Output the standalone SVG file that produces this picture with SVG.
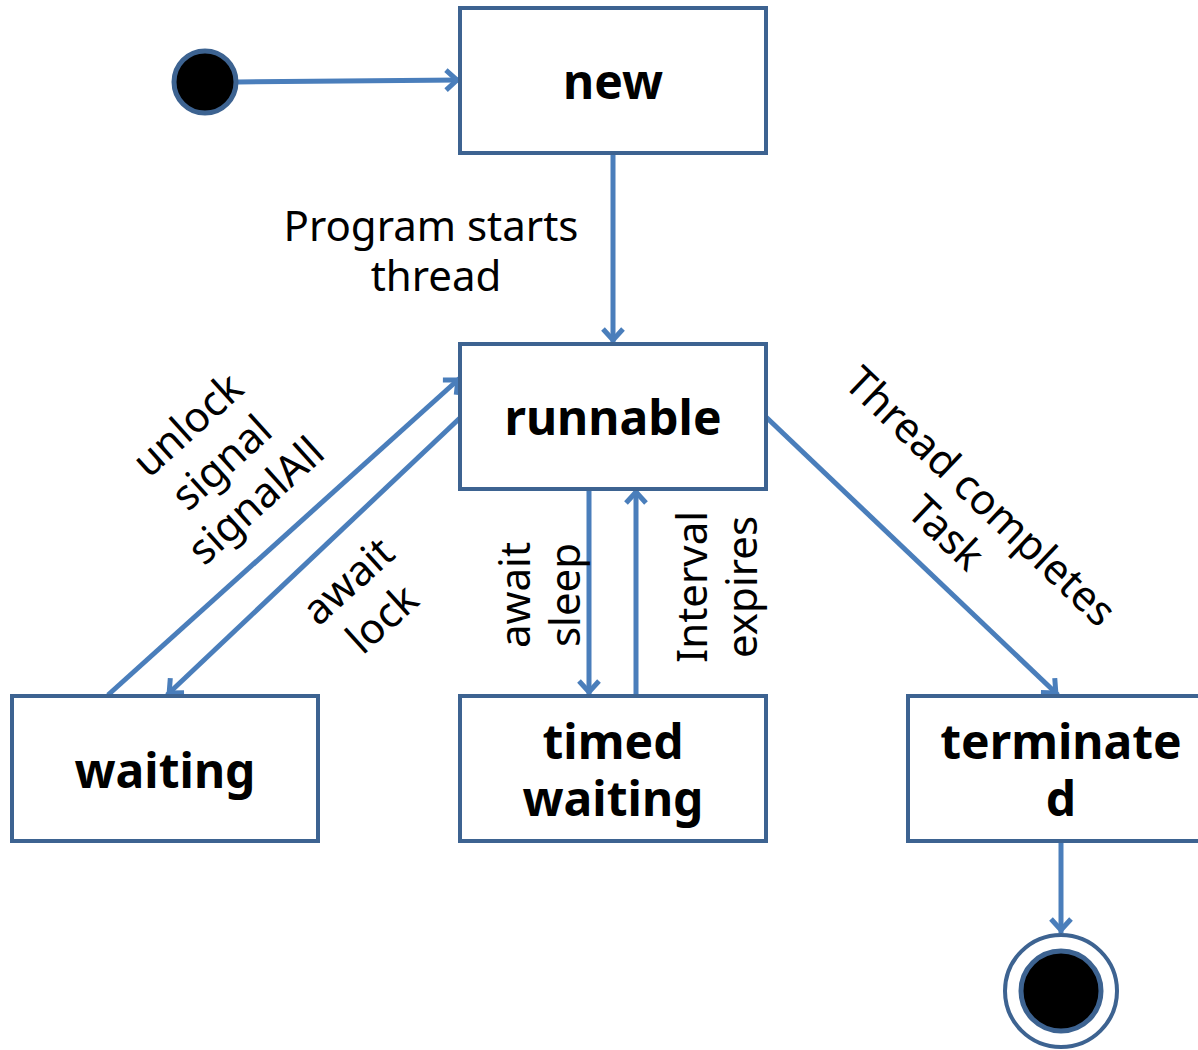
<svg xmlns="http://www.w3.org/2000/svg" width="1198" height="1050" viewBox="0 0 1198 1050">
  <style>
    .box { fill: #ffffff; stroke: #3d6391; stroke-width: 4; }
    .lbl { font-family: "Noto Sans", "Open Sans", sans-serif; font-size: 48px; font-weight: bold; fill: #000; text-anchor: middle; }
    .tr { font-family: "Noto Sans", "Open Sans", sans-serif; font-size: 42px; fill: #000; text-anchor: middle; }
    .edge { fill: none; stroke: #4a7ebb; stroke-width: 5; marker-end: url(#head); }
  </style>
  <defs>
    <marker id="head" markerUnits="userSpaceOnUse" viewBox="-20 -15 30 30" markerWidth="30" markerHeight="30" refX="0" refY="0" orient="auto">
      <path d="M-14,-10 L-3,0 L-14,10" fill="none" stroke="#4a7ebb" stroke-width="5"/>
    </marker>
  </defs>

  <rect width="1198" height="1050" fill="#ffffff"/>

  <!-- transitions -->
  <g id="connectors">
    <line class="edge" x1="238" y1="82" x2="460" y2="80"/>
    <line class="edge" x1="613" y1="153" x2="613" y2="343"/>
    <line class="edge" x1="108" y1="695" x2="460" y2="378"/>
    <line class="edge" x1="461" y1="417" x2="167" y2="695"/>
    <line class="edge" x1="589" y1="489" x2="589" y2="695"/>
    <line class="edge" x1="636" y1="695" x2="636" y2="489"/>
    <line class="edge" x1="766" y1="417" x2="1058" y2="695"/>
    <line class="edge" x1="1061" y1="841" x2="1061" y2="933"/>

    <text class="tr" x="431" y="241">Program starts</text>
    <text class="tr" x="436" y="291">thread</text>

    <g transform="translate(222,463) rotate(-42)">
      <text class="tr" x="0" y="-37">unlock</text>
      <text class="tr" x="0" y="14">signal</text>
      <text class="tr" x="0" y="65">signalAll</text>
    </g>
    <g transform="translate(365,600) rotate(-42)">
      <text class="tr" x="0" y="-11">await</text>
      <text class="tr" x="0" y="40">lock</text>
    </g>
    <g transform="translate(555,595) rotate(-90)">
      <text class="tr" x="0" y="-25">await</text>
      <text class="tr" x="0" y="25">sleep</text>
    </g>
    <g transform="translate(730,587) rotate(-90)">
      <text class="tr" x="0" y="-23">Interval</text>
      <text class="tr" x="0" y="27">expires</text>
    </g>
    <g transform="translate(963,515) rotate(43.5)">
      <text class="tr" x="0" y="-11">Thread completes</text>
      <text class="tr" x="0" y="39">Task</text>
    </g>
  </g>

  <!-- initial pseudo-state -->
  <g id="start">
    <circle cx="205" cy="82" r="31" fill="#000" stroke="#3d6391" stroke-width="5"/>
  </g>

  <g id="new">
    <rect class="box" x="460" y="8" width="306" height="145"/>
    <text class="lbl" x="613" y="99">new</text>
  </g>

  <g id="runnable">
    <rect class="box" x="460" y="344" width="306" height="145"/>
    <text class="lbl" x="613" y="435">runnable</text>
  </g>

  <g id="waiting">
    <rect class="box" x="12" y="696" width="306" height="145"/>
    <text class="lbl" x="165" y="788">waiting</text>
  </g>

  <g id="timed-waiting">
    <rect class="box" x="460" y="696" width="306" height="145"/>
    <text class="lbl" x="613" y="759">timed</text>
    <text class="lbl" x="613" y="816">waiting</text>
  </g>

  <g id="terminated">
    <rect class="box" x="908" y="696" width="306" height="145"/>
    <text class="lbl" x="1061" y="759">terminate</text>
    <text class="lbl" x="1061" y="816">d</text>
  </g>

  <!-- final pseudo-state -->
  <g id="end">
    <circle cx="1061" cy="991" r="56" fill="#fff" stroke="#3d6391" stroke-width="4"/>
    <circle cx="1061" cy="991" r="40" fill="#000" stroke="#3d6391" stroke-width="5"/>
  </g>
</svg>
